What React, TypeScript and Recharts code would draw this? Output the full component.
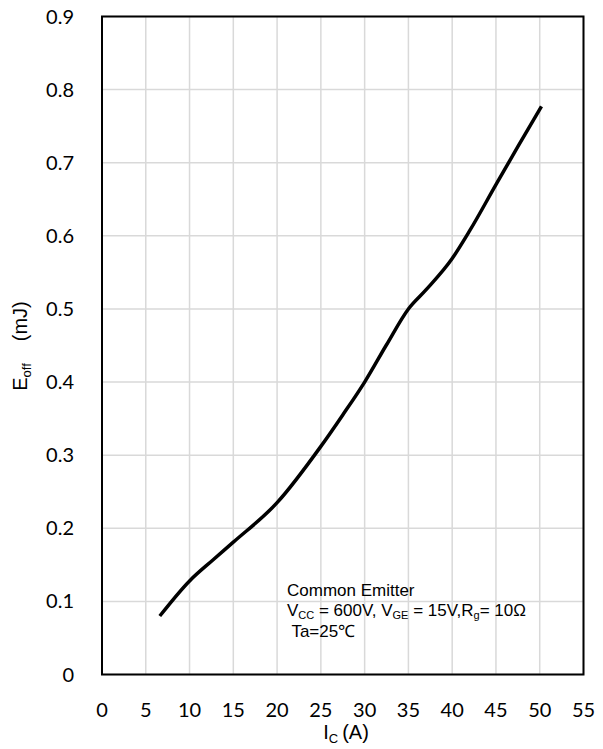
import React from 'react';
import {
    LineChart,
    Line,
    XAxis,
    YAxis,
    CartesianGrid,
    ReferenceArea,
} from 'recharts';

// collector current (A) and turn-off energy (mJ)
const currentA = [6.6, 10, 12.7, 15, 20, 25, 27.5, 30, 32.5, 35, 37, 40, 42, 45, 47.5, 50.2];
const eoffMj = [0.08, 0.128, 0.157, 0.181, 0.235, 0.312, 0.355, 0.4, 0.451, 0.5, 0.526, 0.569, 0.607, 0.67, 0.722, 0.777];

const xTicks = [0, 5, 10, 15, 20, 25, 30, 35, 40, 45, 50, 55];
const yTicks = [0, 0.1, 0.2, 0.3, 0.4, 0.5, 0.6, 0.7, 0.8, 0.9];

const data = currentA.map((ic, i) => ({ ic, eoff: eoffMj[i] }));

const TICK_FONT = 'Lato, "Noto Sans", sans-serif';
const LABEL_FONT = '"Liberation Sans", Arial, sans-serif';

function YTitle() {
    return (
        <text
            x={27}
            y={346}
            transform="rotate(-90, 27, 346)"
            textAnchor="middle"
            fontFamily={LABEL_FONT}
            fontSize={20}
            fill="#000"
        >
            E
            <tspan fontSize={13} dy={4}>off</tspan>
            <tspan dx={22} dy={-4}>(mJ)</tspan>
        </text>
    );
}

function XTitle() {
    return (
        <text
            x={346}
            y={739}
            textAnchor="middle"
            fontFamily={LABEL_FONT}
            fontSize={20}
            fill="#000"
        >
            I
            <tspan fontSize={13} dy={4}>C</tspan>
            <tspan dx={4} dy={-4}>(A)</tspan>
        </text>
    );
}

const subStyle: React.CSSProperties = { fontSize: 11, verticalAlign: 'baseline', position: 'relative', top: 3 };

export default function App() {
    return (
        <div style={{ position: 'absolute', left: 0, top: 0, width: 603, height: 749, background: '#fff' }}>
            <LineChart
                width={603}
                height={749}
                data={data}
                margin={{ top: 16.5, right: 19.5, left: 42, bottom: 44.5 }}
            >
                <CartesianGrid stroke="#d9d9d9" strokeWidth={1.5} />
                <XAxis
                    dataKey="ic"
                    type="number"
                    domain={[0, 55]}
                    ticks={xTicks}
                    height={30}
                    axisLine={false}
                    tickLine={false}
                    tickMargin={22}
                    tick={{ fill: '#000', fontSize: 20, fontFamily: TICK_FONT }}
                    label={{ content: () => <XTitle /> }}
                />
                <YAxis
                    type="number"
                    domain={[0, 0.9]}
                    ticks={yTicks}
                    width={60}
                    axisLine={false}
                    tickLine={false}
                    tickMargin={22}
                    tickFormatter={(v: number) => (v === 0 ? '0' : v.toFixed(1))}
                    tick={{ fill: '#000', fontSize: 20, fontFamily: TICK_FONT }}
                    label={{ content: () => <YTitle /> }}
                />
                <ReferenceArea x1={0} x2={55} y1={0} y2={0.9} fill="none" stroke="#000" strokeWidth={2} />
                <Line
                    type="monotone"
                    dataKey="eoff"
                    stroke="#000"
                    strokeWidth={3.5}
                    dot={false}
                    isAnimationActive={false}
                />
            </LineChart>
            <div
                style={{
                    position: 'absolute',
                    left: 287,
                    top: 581,
                    fontFamily: LABEL_FONT,
                    fontSize: 17,
                    lineHeight: '19.7px',
                    color: '#000',
                    whiteSpace: 'pre',
                }}
            >
                <div>Common Emitter</div>
                <div>
                    V<sub style={subStyle}>CC</sub> = 600V, V<sub style={subStyle}>GE</sub> = 15V,R<sub style={subStyle}>g</sub>= 10Ω
                </div>
                <div> Ta=25℃</div>
            </div>
        </div>
    );
}
